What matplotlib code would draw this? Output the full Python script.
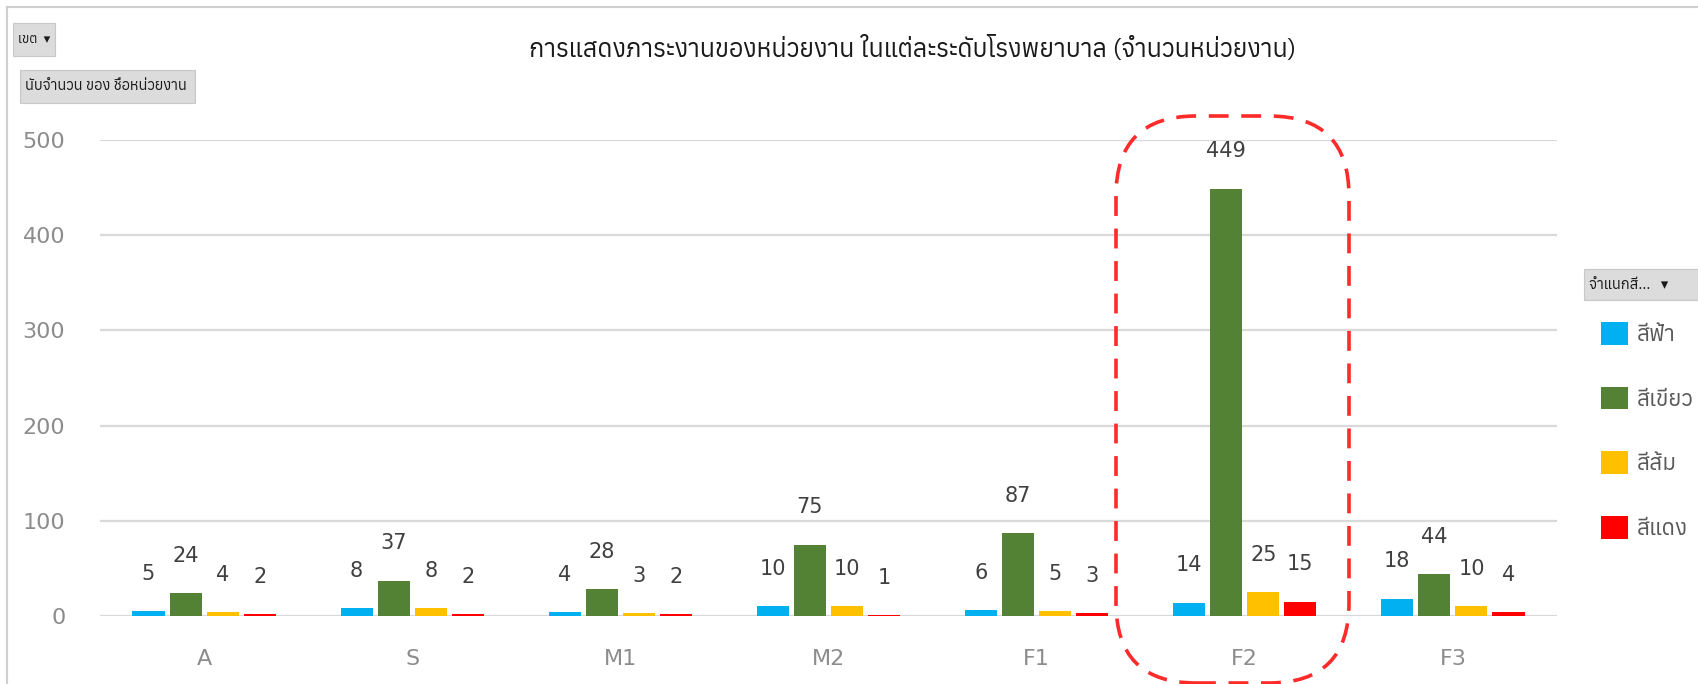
import matplotlib
matplotlib.use("Agg")
import matplotlib.pyplot as plt
from matplotlib import font_manager
from matplotlib.ft2font import FT2Font
from matplotlib.patches import FancyBboxPatch, Rectangle
from matplotlib.lines import Line2D
from matplotlib.transforms import IdentityTransform
import numpy as np

# --- data ---
levels = ["A", "S", "M1", "M2", "F1", "F2", "F3"]
series_names = ["สีฟ้า", "สีเขียว", "สีส้ม", "สีแดง"]
sky = [5, 8, 4, 10, 6, 14, 18]
green = [24, 37, 28, 75, 87, 449, 44]
orange = [4, 8, 3, 10, 5, 25, 10]
red = [2, 2, 2, 1, 3, 15, 4]
colors = ["#00B0F0", "#548235", "#FFC000", "#FF0000"]
title = "การแสดงภาระงานของหน่วยงาน ในแต่ละระดับโรงพยาบาล (จำนวนหน่วยงาน)"

# pick an installed font that has Thai glyphs
thai_font = "DejaVu Sans"
found = []
for f in font_manager.fontManager.ttflist:
    try:
        if 0x0E01 in FT2Font(f.fname).get_charmap():
            found.append(f.name)
    except Exception:
        pass
if found:
    thai_font = sorted(set(found))[0]
fam = [thai_font, "DejaVu Sans"]

W, H = 1699, 684
fig = plt.figure(figsize=(W / 100, H / 100), dpi=100)

ax = fig.add_axes([100 / W, (H - 616) / H, 1457 / W, 476 / H])
x = np.arange(len(levels))
slot, bw = 0.178, 0.154
for i, (vals, c) in enumerate(zip([sky, green, orange, red], colors)):
    bars = ax.bar(x + (i - 1.5) * slot, vals, bw, color=c, label=series_names[i], zorder=3)
    for b, v in zip(bars, vals):
        ax.annotate(str(v), (b.get_x() + b.get_width() / 2, v), xytext=(0, 27),
                    textcoords="offset points", ha="center", va="center",
                    fontsize=15, color="#404040", annotation_clip=False)

ax.set_xlim(-0.5, len(levels) - 0.5)
ax.set_ylim(0, 500)
ax.set_yticks(range(0, 501, 100))
ax.set_xticks(x)
ax.set_xticklabels(levels)
ax.tick_params(length=0, labelsize=16, labelcolor="#8C8C8C")
ax.tick_params(axis="y", pad=25)
ax.tick_params(axis="x", pad=24)
ax.grid(axis="y", color="#D9D9D9", lw=1.6, zorder=0)
for s in ax.spines.values():
    s.set_visible(False)

fig.text(913 / W, 1 - 49 / H, title, ha="center", va="center", fontsize=18,
         color="#1a1a1a", family=fam)

# outer chart frame
fig.add_artist(Line2D([7 / W, 7 / W], [0, 1 - 7 / H], color="#D0D0D0", lw=1.5))
fig.add_artist(Line2D([7 / W, 1], [1 - 7 / H, 1 - 7 / H], color="#D0D0D0", lw=1.5))

# pivot field buttons
def button(x0, y0, x1, y1, text, size):
    fig.add_artist(Rectangle((x0 / W, 1 - y1 / H), (x1 - x0) / W, (y1 - y0) / H,
                             transform=fig.transFigure, facecolor="#DCDCDC",
                             edgecolor="#C8C8C8", lw=0.8))
    fig.text((x0 + 5) / W, 1 - (y0 + y1) / 2 / H, text, ha="left", va="center",
             fontsize=size, color="#1a1a1a", family=fam, weight="bold")

button(13, 23, 55, 56, "เขต  ▾", 9.5)
button(20, 70, 195, 103, "นับจำนวน ของ ชื่อหน่วยงาน", 10.5)
button(1584, 269, 1699, 300, "จำแนกสี...   ▾", 10.5)

# legend
fig.legend(loc="upper left", bbox_to_anchor=(1592 / W, 1 - 313 / H), frameon=False,
           handlelength=1.2, handleheight=1.2, handletextpad=0.4, labelspacing=1.84,
           prop={"family": fam, "size": 16}, labelcolor="#595959", borderaxespad=0)

# dashed highlight around F2
fig.add_artist(FancyBboxPatch((1116, H - 683), 233, 567, boxstyle="round,pad=0,rounding_size=80",
                              transform=IdentityTransform(), fill=False, edgecolor="#FF2A2A",
                              lw=2.6, linestyle=(0, (5.5, 3.5))))

fig.savefig("out.png", dpi=100)
